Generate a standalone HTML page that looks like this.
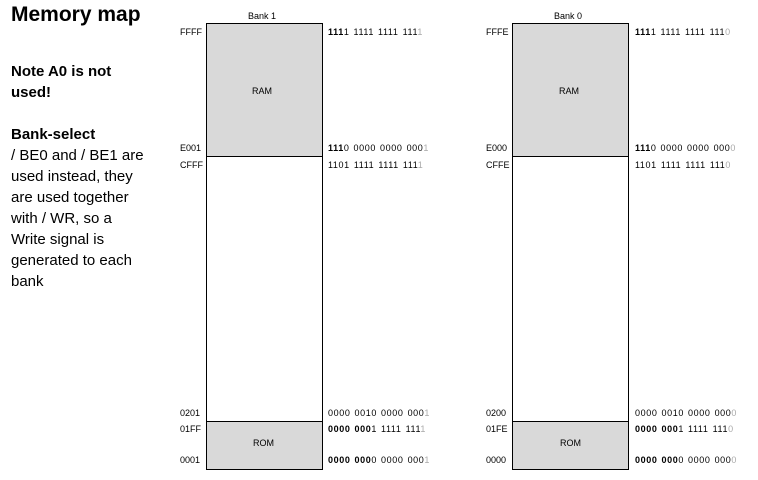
<!DOCTYPE html>
<html><head><style>
body{margin:0;width:758px;height:480px;background:#fff;position:relative;font-family:"Liberation Sans",sans-serif;color:#000;overflow:hidden}
.a{position:absolute;font-size:9px;line-height:10px;white-space:nowrap}
.bn{word-spacing:1px;letter-spacing:0.6px}
.box{position:absolute;border:1px solid #000;box-sizing:border-box}
.g{background:#d9d9d9}
.l{color:#aaa}
b{font-weight:bold}
</style></head><body>
<div style="position:absolute;left:11px;top:3px;font-size:21px;font-weight:bold">Memory map</div>
<div style="position:absolute;left:11px;top:61px;font-size:15px;line-height:21px;width:160px">
<b>Note A0 is not<br>used!</b><br><br><b>Bank-select</b><br>/ BE0 and / BE1 are<br>used instead, they<br>are used together<br>with / WR, so a<br>Write signal is<br>generated to each<br>bank</div>

<!-- Bank 1 -->
<div class="a" style="left:248px;top:11px">Bank 1</div>
<div class="box g" style="left:206px;top:23px;width:117px;height:134px"></div>
<div class="box" style="left:206px;top:156px;width:117px;height:266px"></div>
<div class="box g" style="left:206px;top:421px;width:117px;height:49px"></div>
<div class="a" style="left:252px;top:86px">RAM</div>
<div class="a" style="left:253px;top:438px">ROM</div>
<div class="a" style="left:180px;top:27px">FFFF</div>
<div class="a" style="left:180px;top:143px">E001</div>
<div class="a" style="left:180px;top:160px">CFFF</div>
<div class="a" style="left:180px;top:408px">0201</div>
<div class="a" style="left:180px;top:424px">01FF</div>
<div class="a" style="left:180px;top:455px">0001</div>
<div class="a bn" style="left:328px;top:27px"><b>111</b>1 1111 1111 111<span class="l">1</span></div>
<div class="a bn" style="left:328px;top:143px"><b>111</b>0 0000 0000 000<span class="l">1</span></div>
<div class="a bn" style="left:328px;top:160px">1101 1111 1111 111<span class="l">1</span></div>
<div class="a bn" style="left:328px;top:408px">0000 0010 0000 000<span class="l">1</span></div>
<div class="a bn" style="left:328px;top:424px"><b>0000 000</b>1 1111 111<span class="l">1</span></div>
<div class="a bn" style="left:328px;top:455px"><b>0000 000</b>0 0000 000<span class="l">1</span></div>

<!-- Bank 0 -->
<div class="a" style="left:554px;top:11px">Bank 0</div>
<div class="box g" style="left:512px;top:23px;width:117px;height:134px"></div>
<div class="box" style="left:512px;top:156px;width:117px;height:266px"></div>
<div class="box g" style="left:512px;top:421px;width:117px;height:49px"></div>
<div class="a" style="left:559px;top:86px">RAM</div>
<div class="a" style="left:560px;top:438px">ROM</div>
<div class="a" style="left:486px;top:27px">FFFE</div>
<div class="a" style="left:486px;top:143px">E000</div>
<div class="a" style="left:486px;top:160px">CFFE</div>
<div class="a" style="left:486px;top:408px">0200</div>
<div class="a" style="left:486px;top:424px">01FE</div>
<div class="a" style="left:486px;top:455px">0000</div>
<div class="a bn" style="left:635px;top:27px"><b>111</b>1 1111 1111 111<span class="l">0</span></div>
<div class="a bn" style="left:635px;top:143px"><b>111</b>0 0000 0000 000<span class="l">0</span></div>
<div class="a bn" style="left:635px;top:160px">1101 1111 1111 111<span class="l">0</span></div>
<div class="a bn" style="left:635px;top:408px">0000 0010 0000 000<span class="l">0</span></div>
<div class="a bn" style="left:635px;top:424px"><b>0000 000</b>1 1111 111<span class="l">0</span></div>
<div class="a bn" style="left:635px;top:455px"><b>0000 000</b>0 0000 000<span class="l">0</span></div>
</body></html>
